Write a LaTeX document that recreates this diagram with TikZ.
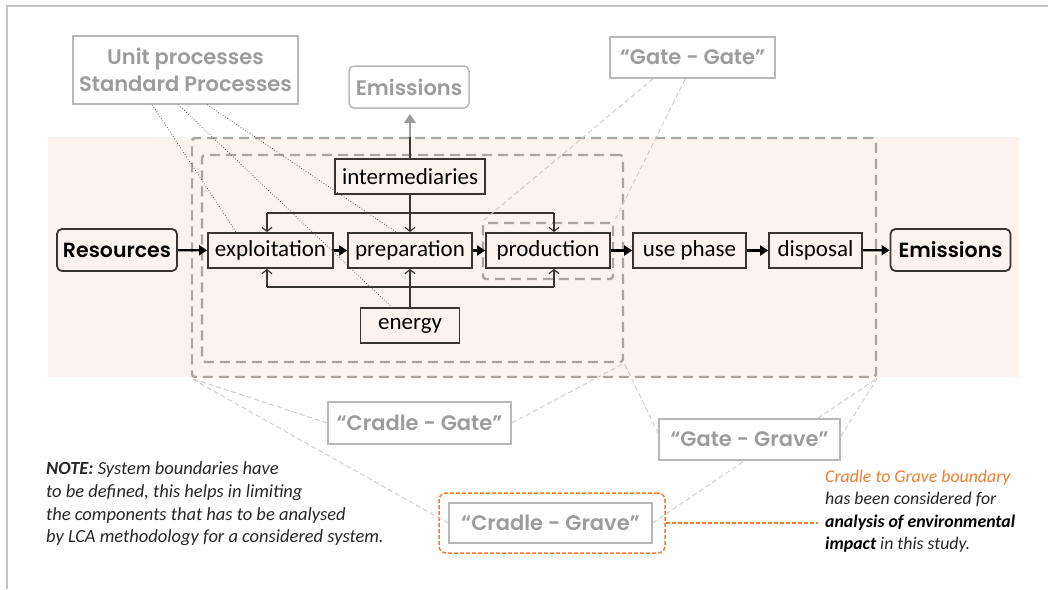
\documentclass[tikz,border=0pt]{standalone}
\usepackage{fontspec}
\setmainfont{Carlito}
\newfontfamily\geo{Poppins}[BoldFont={Poppins SemiBold}]
\usetikzlibrary{arrows.meta,calc}
\definecolor{peach}{HTML}{FDF3EE}
\definecolor{dk}{HTML}{3A3431}
\definecolor{bndc}{HTML}{ABA5A2}
\definecolor{lgray}{HTML}{B8B8B8}
\definecolor{tgray}{HTML}{9C9C9C}
\definecolor{org}{HTML}{ED7D31}
\definecolor{frm}{HTML}{C4C4C4}
\definecolor{thin}{HTML}{CACACA}
\begin{document}
\begin{tikzpicture}[x=1pt,y=-1pt,
 flowbox/.style={draw=dk, line width=1.8pt, inner sep=0pt, minimum height=35pt, font=\fontsize{23}{24}\selectfont, text=black},
 endbox/.style={flowbox, rounded corners=5pt, minimum height=42pt, font=\geo\bfseries\fontsize{20.5}{22}\selectfont},
 graybox/.style={draw=lgray, line width=1.5pt, inner sep=0pt, text=tgray, font=\geo\bfseries\fontsize{21}{22}\selectfont},
 bndbox/.style={draw=bndc, line width=2.4pt, dash pattern=on 10pt off 6pt, inner sep=0pt, rounded corners=3pt},
 flow/.style={draw=black, line width=2.2pt, -{Triangle[length=8pt,width=10pt]}},
 fb/.style={draw=dk, line width=1.2pt},
 fbarrow/.style={fb, -{Straight Barb[length=4pt,width=10pt]}},
 dotline/.style={draw=black!75, line width=0.7pt, dotted},
 thinline/.style={draw=thin, line width=0.9pt, dash pattern=on 5pt off 3pt},
 orgbox/.style={draw=org, line width=1.5pt, dash pattern=on 4pt off 2pt, rounded corners=7pt, inner sep=0pt},
 orgline/.style={draw=org, line width=1.1pt, dash pattern=on 4pt off 2pt},
 note/.style={font=\fontsize{18.5}{20}\selectfont\itshape, anchor=base west, inner sep=0pt, text=black!85},
 rnote/.style={note, font=\fontsize{17.8}{20}\selectfont\itshape}
]
\useasboundingbox (0,0) rectangle (1048,589);
\draw[frm, line width=1.5pt] (7,589) -- (7,6) -- (1048,6);
\fill[peach] (48,137) rectangle (1019,377);

% boundary boxes
\node[bndbox, minimum width=684pt, minimum height=239pt] (outer) at (534,257.5) {};
\node[bndbox, minimum width=421pt, minimum height=207pt] (inner) at (412.5,258.5) {};
\node[bndbox, minimum width=130pt, minimum height=56pt] (pbox) at (548,251) {};

% flow nodes
\node[endbox, minimum width=120pt] (res) at (117,250) {Resources};
\node[flowbox, minimum width=125pt] (expl) at (270.5,250.5) {exploitation};
\node[flowbox, minimum width=124pt] (prep) at (410,250.5) {preparation};
\node[flowbox, minimum width=124pt] (prod) at (548,250.5) {production};
\node[flowbox, minimum width=113pt] (use) at (689.5,250.5) {use phase};
\node[flowbox, minimum width=93pt] (disp) at (815.5,250.5) {disposal};
\node[endbox, minimum width=120pt] (emis) at (950.5,250) {Emissions};
\node[flowbox, minimum width=150pt] (inter) at (410,176.5) {intermediaries};
\node[flowbox, minimum width=99pt] (energy) at (410,325.5) {energy};

% gray label boxes
\node[graybox, minimum width=225pt, minimum height=68pt, align=center, font=\geo\bfseries\fontsize{21}{27}\selectfont] (up) at (185.5,70) {Unit processes\\Standard Processes};
\node[graybox, rounded corners=5pt, minimum width=120pt, minimum height=42pt] (em2) at (409,87) {Emissions};
\node[graybox, minimum width=165pt, minimum height=41pt] (gg) at (692.5,57.5) {“Gate - Gate”};
\node[graybox, minimum width=183pt, minimum height=42pt] (cgate) at (419.5,423) {“Cradle - Gate”};
\node[graybox, minimum width=181pt, minimum height=41pt] (ggrave) at (749.5,439.5) {“Gate - Grave”};
\node[orgbox, minimum width=226pt, minimum height=60pt] (obox) at (552,523) {};
\node[graybox, minimum width=203pt, minimum height=40pt] (cgrave) at (550.5,523) {“Cradle - Grave”};

% main flow
\draw[flow] (res) -- (expl);
\draw[flow] (expl) -- (prep);
\draw[flow] (prep) -- (prod);
\draw[flow] (prod) -- (use);
\draw[flow] (use) -- (disp);
\draw[flow] (disp) -- (emis);

% intermediaries / energy distribution
\coordinate (tl) at (267,213);
\coordinate (tr) at (554,213);
\coordinate (bl) at (267,287);
\coordinate (br) at (554,287);
\draw[fbarrow] (inter.south) -- (prep.north);
\draw[fb] (tl) -- (tr);
\draw[fbarrow] (tl) -- (tl |- expl.north);
\draw[fbarrow] (tr) -- (tr |- prod.north);
\draw[fbarrow] (energy.north) -- (prep.south);
\draw[fb] (bl) -- (br);
\draw[fbarrow] (bl) -- (bl |- expl.south);
\draw[fbarrow] (br) -- (br |- prod.south);

% emissions upward
\draw[tgray, line width=2.4pt, -{Triangle[length=9pt,width=11pt]}, shorten >=5pt] (inter.north) -- (inter.north |- em2.south);
\draw[dk, line width=2.4pt] (inter.north) -- (inter.north |- outer.north);

% dotted lines from unit processes
\draw[dotline] ($(up.south west)+(80,0)$) -- ($(expl.north west)+(29,0)$);
\draw[dotline] ($(up.south west)+(106,0)$) -- ($(energy.north west)+(32,0)$);
\draw[dotline] ($(up.south west)+(135,0)$) -- ($(prep.north west)+(49,0)$);

% thin dashed leader lines
\draw[thinline] ($(gg.south west)+(44,0)$) -- (pbox.north west);
\draw[thinline] ($(gg.south west)+(76,0)$) -- (pbox.north east);
\draw[thinline] (cgate.west) -- (outer.south west);
\draw[thinline] (cgate.east) -- (inner.south east);
\draw[thinline] (cgrave.west) -- (outer.south west);
\draw[thinline] (cgrave.east) -- ($(ggrave.south)+(-5,0)$);
\draw[thinline] ($(ggrave.west)+(0,-6)$) -- (inner.south east);
\draw[thinline] ($(ggrave.north east)+(-23,0)$) -- (outer.south east);
\draw[thinline] ($(ggrave.east)+(0,-3)$) -- (outer.south east);

% orange leader
\coordinate (oend) at (818,523);
\draw[orgline] (obox.east) -- (oend);

% notes
\node[note] (n1) at (46,474) {\textbf{NOTE:} System boundaries have};
\node[note] (n2) at (46,497) {to be defined, this helps in limiting};
\node[note] (n3) at (46,520) {the components that has to be analysed};
\node[note] (n4) at (46,542.5) {by LCA methodology for a considered system.};

\node[rnote, text=org] (r1) at (825,482) {Cradle to Grave boundary};
\node[rnote] (r2) at (825,504.5) {has been considered for};
\node[rnote, text=black] (r3) at (825,527) {\textbf{analysis of environmental}};
\node[rnote] (r4) at (825,549.5) {\textbf{\color{black}impact} in this study.};
\end{tikzpicture}
\end{document}
